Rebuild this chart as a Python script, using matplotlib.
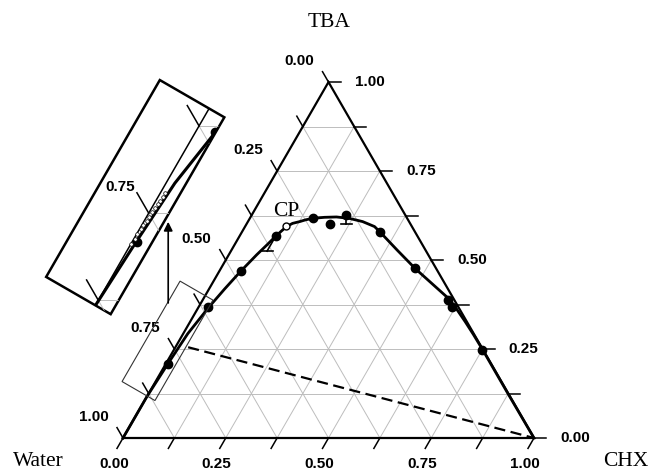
import numpy as np
import matplotlib
matplotlib.use("Agg")
import matplotlib.pyplot as plt
from matplotlib.patches import Polygon
from matplotlib.transforms import Affine2D

plt.rcParams["font.family"] = ["Liberation Serif", "DejaVu Serif"]

# ---- measured binodal points (mass fractions) ------------------------
bin_chx = [0.006, 0.024, 0.053, 0.088, 0.153, 0.203, 0.230, 0.336,
           0.473, 0.598, 0.616, 0.749]
bin_tba = [0.209, 0.367, 0.469, 0.567, 0.618, 0.601, 0.626, 0.579,
           0.477, 0.387, 0.369, 0.248]

# critical (plait) point
cp_chx, cp_tba = 0.100, 0.595

# error bars: measured point -> lower end
err_chx = [0.088, 0.230]
err_tba = [0.567, 0.626]
err_end_chx = [0.088, 0.243]
err_end_tba = [0.525, 0.600]

# cloud-point titration near the water corner (only visible when magnified)
cloud_chx = [0.000, 0.001, 0.001, 0.002, 0.002, 0.003, 0.003, 0.004,
             0.004, 0.005, 0.005, 0.006, 0.006]
cloud_tba = [0.206, 0.213, 0.220, 0.227, 0.233, 0.239, 0.245, 0.251,
             0.257, 0.263, 0.268, 0.273, 0.279]

# correlated binodal curve
curve_chx = [0.000, 0.000, 0.005, 0.011, 0.025, 0.038, 0.052, 0.068,
             0.080, 0.088, 0.095, 0.101, 0.111, 0.126, 0.138, 0.153,
             0.180, 0.209, 0.242, 0.279, 0.315, 0.337, 0.403, 0.473,
             0.536, 0.599, 0.633, 0.669, 0.707, 0.749, 0.873, 1.000]
curve_tba = [0.000, 0.117, 0.209, 0.293, 0.367, 0.419, 0.468, 0.515,
             0.545, 0.567, 0.582, 0.594, 0.603, 0.608, 0.613, 0.617,
             0.620, 0.621, 0.617, 0.608, 0.594, 0.578, 0.528, 0.476,
             0.433, 0.390, 0.360, 0.327, 0.291, 0.250, 0.126, 0.000]

# tie line
tie_chx = [0.031, 1.0]
tie_tba = [0.255, 0.0]

grid_steps = np.arange(0.125, 0.999, 0.125)
tick_steps = np.arange(0.0, 1.001, 0.125)
major_vals = [0.0, 0.25, 0.5, 0.75, 1.0]
major_labels = ["0.00", "0.25", "0.50", "0.75", "1.00"]

S3 = np.sqrt(3) / 2
PX = 411.0          # pixels per unit edge
TICK = 12 / PX
MAG = 1.96


def tern(chx, tba):
    chx = np.asarray(chx, float)
    tba = np.asarray(tba, float)
    return chx + tba / 2, tba * S3


def draw_diagram(ax, tr, edge_lw, curve_lw):
    arts = []
    for f in grid_steps:
        for c, t in (([0, 1 - f], [f, f]), ([f, f], [0, 1 - f]),
                     ([1 - f, 0], [0, 1 - f])):
            x, y = tern(c, t)
            arts += ax.plot(x, y, color="#bdbdbd", lw=0.7, transform=tr,
                            zorder=1)
    x, y = tern([0, 1, 0, 0], [0, 0, 1, 0])
    arts += ax.plot(x, y, color="k", lw=edge_lw, transform=tr, zorder=3,
                    solid_joinstyle="miter")
    for f in tick_steps:
        # bottom axis (CHX), ticks down-left
        x, y = tern(f, 0)
        arts += ax.plot([x, x - 0.5 * TICK], [y, y - S3 * TICK], color="k",
                        lw=1.1, transform=tr, zorder=3)
        # right axis (TBA), ticks to the right
        x, y = tern(1 - f, f)
        arts += ax.plot([x, x + TICK], [y, y], color="k", lw=1.1,
                        transform=tr, zorder=3)
        # left axis (Water), ticks up-left
        x, y = tern(0, 1 - f)
        arts += ax.plot([x, x - 0.5 * TICK], [y, y + S3 * TICK], color="k",
                        lw=1.1, transform=tr, zorder=3)

    x, y = tern(curve_chx, curve_tba)
    arts += ax.plot(x, y, color="k", lw=curve_lw, transform=tr, zorder=4,
                    solid_joinstyle="round")

    for c0, t0, c1, t1 in zip(err_chx, err_tba, err_end_chx, err_end_tba):
        x0, y0 = tern(c0, t0)
        x1, y1 = tern(c1, t1)
        arts += ax.plot([x0, x1], [y0, y1], color="k", lw=1.2,
                        transform=tr, zorder=4)
        arts += ax.plot([x1 - 5.5 / PX, x1 + 5.5 / PX], [y1, y1], color="k",
                        lw=1.2, transform=tr, zorder=4)

    x, y = tern(bin_chx, bin_tba)
    arts += ax.plot(x, y, "o", color="k", ms=6, transform=tr, zorder=5)
    x, y = tern(cp_chx, cp_tba)
    arts += ax.plot(x, y, "o", mfc="white", mec="k", mew=1.0, ms=5,
                    transform=tr, zorder=5)
    return arts


fig = plt.figure(figsize=(6.52, 4.73), dpi=100)
ax = fig.add_axes([0, 0, 1, 1])
ax.set_xlim(-123 / PX, (652 - 123) / PX)
ax.set_ylim(-35 / PX, 438 / PX)
ax.axis("off")

draw_diagram(ax, ax.transData, edge_lw=1.6, curve_lw=2.0)

x, y = tern(tie_chx, tie_tba)
ax.plot(x, y, color="k", lw=1.6, dashes=(5, 2.5), zorder=2)

# tick labels
lab_kw = dict(family=["Liberation Sans", "DejaVu Sans"], fontweight="bold",
              fontsize=11, ha="center", va="center")
for v, s in zip(major_vals, major_labels):
    x, y = tern(v, 0)
    ax.text(x - 9 / PX, y - 26 / PX, s, **lab_kw)
    x, y = tern(1 - v, v)
    ax.text(x + 41 / PX, y, s, **lab_kw)
    x, y = tern(0, 1 - v)
    ax.text(x - 29 / PX, y + 21 / PX, s, **lab_kw)

ax.text(0.501, 1.012, "TBA", fontsize=15.5, ha="center", va="center")
ax.text(-0.205, -0.058, "Water", fontsize=15.5, ha="center", va="center")
ax.text(1.224, -0.058, "CHX", fontsize=15.5, ha="center", va="center")

x, y = tern(cp_chx, cp_tba)
ax.text(x, y + 15 / PX, "CP", fontsize=15.5, ha="center", va="center")

# ---- magnified view of the water-rich corner -------------------------
ang = np.deg2rad(60)
u = np.array([np.cos(ang), np.sin(ang)])
w = np.array([np.sin(ang), -np.cos(ang)])
small_c = np.array([0.1083, 0.2364])
small_len, small_wid = 0.2822, 0.0925
big_c = np.array([0.0298, 0.5861])


def rect(c, length, width):
    return [c - length / 2 * u - width / 2 * w, c + length / 2 * u - width / 2 * w,
            c + length / 2 * u + width / 2 * w, c - length / 2 * u + width / 2 * w]


ax.add_patch(Polygon(rect(small_c, small_len, small_wid), closed=True,
                     fill=False, ec="#333333", lw=0.8, zorder=6))
big_patch = Polygon(rect(big_c, small_len * MAG, small_wid * MAG), closed=True,
                    fc="white", ec="k", lw=1.8, zorder=6)
ax.add_patch(big_patch)

mag = (Affine2D().translate(-small_c[0], -small_c[1]).scale(MAG)
       .translate(big_c[0], big_c[1]))
tr_in = mag + ax.transData
inset_arts = draw_diagram(ax, tr_in, edge_lw=1.1, curve_lw=2.2)
x, y = tern(cloud_chx, cloud_tba)
inset_arts += ax.plot(x, y, "o", mfc="white", mec="k", mew=0.5, ms=2.6,
                      transform=tr_in, zorder=5)
for a in inset_arts:
    a.set_zorder(a.get_zorder() + 6)
    a.set_clip_path(big_patch)

# label next to the magnified 0.75 water tick
x, y = tern(0, 0.25)
tip = big_c + MAG * (np.array([x - 0.5 * TICK, y + S3 * TICK]) - small_c)
ax.text(tip[0] - 17 / PX, tip[1] + 6 / PX, "0.75", zorder=14, **lab_kw)

ax.annotate("", xy=(0.110, 0.526), xytext=(0.110, 0.3285),
            arrowprops=dict(arrowstyle="-|>", color="k", lw=1.2,
                            mutation_scale=13, shrinkA=0, shrinkB=0),
            zorder=7)

fig.savefig("out.png", dpi=100)
